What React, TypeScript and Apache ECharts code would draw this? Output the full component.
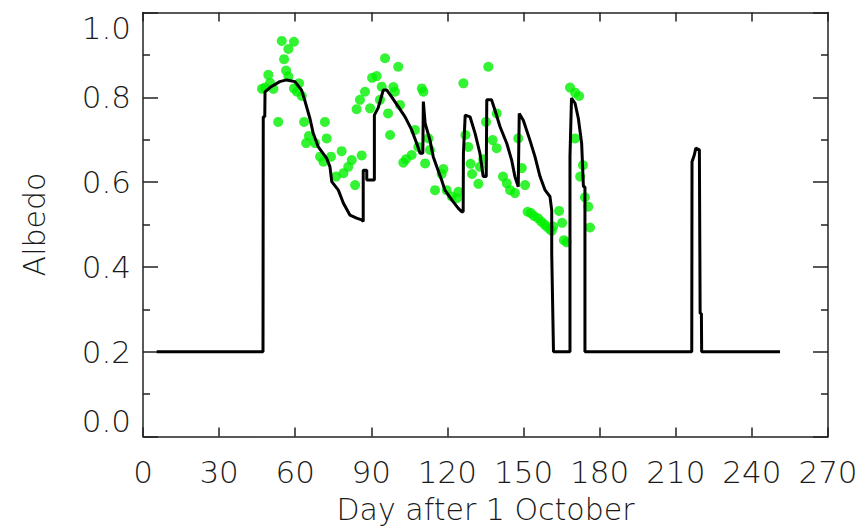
import React, { useEffect, useRef } from "react";
import * as echarts from "echarts";

const xTicks = [0, 30, 60, 90, 120, 150, 180, 210, 240, 270];
const yTicks = [0.0, 0.2, 0.4, 0.6, 0.8, 1.0];

const modelDays = [
  5.4, 47.3, 47.4, 48.0, 48.1, 50.5, 53.9, 56.6, 59.9, 62.5, 63.9, 65.8, 67.1, 69.1, 72.4, 73.7, 74.4, 77.0,
  79.0, 81.6, 84.2, 86.2, 86.8, 86.8, 88.2, 88.2, 91.2, 91.2, 92.7, 94.7, 96.1, 98.0, 100.6, 103.3, 105.9,
  107.9, 109.2, 110.3, 110.5, 111.2, 113.1, 114.4, 115.8, 117.7, 119.0, 121.7, 124.3, 125.6, 126.2, 126.3,
  127.0, 128.9, 130.9, 132.8, 134.1, 135.3, 135.5, 137.4, 138.7, 140.7, 143.4, 145.3, 146.6, 147.9, 148.3,
  149.9, 152.5, 154.5, 156.5, 158.5, 160.4, 161.1, 161.1, 161.8, 168.3, 168.3, 168.9, 170.3, 171.6, 172.9,
  173.6, 174.2, 174.2, 216.3, 216.4, 217.3, 217.9, 219.3, 219.6, 220.1, 220.2, 251.1,
];
const modelAlbedo = [
  0.2, 0.2, 0.754, 0.754, 0.813, 0.825, 0.837, 0.841, 0.837, 0.817, 0.79, 0.75, 0.715, 0.683, 0.656, 0.636,
  0.601, 0.581, 0.55, 0.522, 0.515, 0.511, 0.507, 0.628, 0.628, 0.605, 0.605, 0.758, 0.775, 0.817, 0.817,
  0.801, 0.778, 0.754, 0.723, 0.691, 0.668, 0.668, 0.79, 0.739, 0.699, 0.66, 0.636, 0.605, 0.581, 0.558,
  0.538, 0.53, 0.53, 0.668, 0.758, 0.754, 0.715, 0.668, 0.613, 0.613, 0.794, 0.794, 0.77, 0.731, 0.691,
  0.652, 0.613, 0.589, 0.762, 0.746, 0.699, 0.66, 0.613, 0.581, 0.566, 0.534, 0.433, 0.2, 0.2, 0.66, 0.798,
  0.786, 0.75, 0.691, 0.589, 0.589, 0.2, 0.2, 0.648, 0.664, 0.68, 0.676, 0.29, 0.29, 0.2, 0.2,
];

const obsDays = [
  48.1, 49.4, 51.4, 50.1, 54.7, 59.5, 57.3, 55.6, 53.3, 56.4, 57.3, 61.5, 59.5, 60.7, 62.6, 63.5, 71.7,
  65.4, 72.4, 64.3, 67.8, 69.8, 74.1, 78.3, 71.1, 82.3, 86.2, 80.9, 76.1, 79.0, 83.6, 90.3, 87.5, 85.5,
  84.2, 89.5, 95.4, 100.6, 92.1, 94.1, 98.7, 99.3, 93.4, 101.3, 96.6, 97.4, 109.9, 110.5, 107.2, 112.5,
  113.1, 108.5, 105.9, 103.7, 102.6, 111.2, 118.4, 117.7, 115.1, 119.7, 121.7, 124.3, 123.7, 126.3, 136.1,
  139.4, 135.2, 127.1, 128.2, 137.8, 139.4, 147.9, 134.1, 129.1, 129.7, 132.8, 132.2, 141.9, 143.4, 144.7,
  146.6, 149.3, 150.6, 151.6, 154.1, 156.9, 159.1, 161.1, 164.0, 165.2, 167.0, 165.9, 161.7, 168.3, 170.3,
  171.9, 170.3, 173.4, 172.3, 174.2, 175.5, 176.2, 155.7, 158.1, 152.9, 160.3, 46.9,
];
const obsAlbedo = [
  0.823, 0.853, 0.82, 0.834, 0.933, 0.931, 0.914, 0.89, 0.742, 0.863, 0.849, 0.833, 0.821, 0.813, 0.803,
  0.742, 0.742, 0.709, 0.703, 0.692, 0.692, 0.66, 0.66, 0.673, 0.648, 0.652, 0.663, 0.636, 0.613, 0.621,
  0.593, 0.846, 0.813, 0.794, 0.772, 0.774, 0.892, 0.872, 0.85, 0.825, 0.824, 0.813, 0.794, 0.782, 0.762,
  0.711, 0.821, 0.813, 0.723, 0.703, 0.676, 0.683, 0.664, 0.654, 0.646, 0.644, 0.631, 0.619, 0.581, 0.581,
  0.566, 0.577, 0.562, 0.833, 0.872, 0.762, 0.742, 0.711, 0.683, 0.699, 0.68, 0.703, 0.654, 0.643, 0.619,
  0.636, 0.596, 0.613, 0.597, 0.581, 0.574, 0.633, 0.593, 0.53, 0.52, 0.507, 0.495, 0.485, 0.532, 0.504,
  0.458, 0.463, 0.495, 0.823, 0.811, 0.803, 0.703, 0.64, 0.613, 0.564, 0.542, 0.493, 0.515, 0.501, 0.527,
  0.489, 0.82,
];

const FONT = "'DejaVu Sans', sans-serif";
const TXT = "#1a1a1a";

export default function App() {
  const ref = useRef<HTMLDivElement>(null);
  useEffect(() => {
    if (!ref.current) return;
    const chart = echarts.init(ref.current, null, { renderer: "svg" });
    const lineData = modelDays.map((d, i) => [d, modelAlbedo[i]]);
    const obsData = obsDays.map((d, i) => [d, obsAlbedo[i]]);
    const axisLine = { show: true, onZero: false, lineStyle: { color: "#222", width: 1.5 } };
    chart.setOption({
      animation: false,
      backgroundColor: "#fff",
      grid: { left: 143, right: 39, top: 12.5, bottom: 95.5 },
      xAxis: [
        {
          type: "value",
          min: 0,
          max: 270,
          interval: 30,
          position: "bottom",
          axisLine,
          axisTick: { show: true, inside: true, length: 9, lineStyle: { color: "#222", width: 1.5 } },
          splitLine: { show: false },
          axisLabel: {
            show: true,
            margin: 20,
            fontSize: 31,
            fontFamily: FONT,
            fontWeight: 200,
            color: TXT,
            formatter: (v: number) => (xTicks.includes(v) ? String(v) : ""),
          },
          name: "Day after 1 October",
          nameLocation: "middle",
          nameGap: 58,
          nameTextStyle: { fontSize: 30, fontFamily: FONT, fontWeight: 200, color: TXT },
        },
        {
          type: "value",
          min: 0,
          max: 270,
          interval: 30,
          position: "top",
          axisLine,
          axisTick: { show: true, inside: true, length: 9, lineStyle: { color: "#222", width: 1.5 } },
          splitLine: { show: false },
          axisLabel: { show: false },
        },
      ],
      yAxis: [
        {
          type: "value",
          min: 0,
          max: 1,
          interval: 0.2,
          position: "left",
          axisLine,
          axisTick: { show: true, inside: true, length: 15, lineStyle: { color: "#222", width: 1.5 } },
          minorTick: { show: true, splitNumber: 2, length: 7, lineStyle: { color: "#222", width: 1.5 } },
          splitLine: { show: false },
          axisLabel: {
            show: true,
            margin: 12,
            fontSize: 31,
            fontFamily: FONT,
            fontWeight: 200,
            color: TXT,
            verticalAlignMaxLabel: "top",
            verticalAlignMinLabel: "bottom",
            formatter: (v: number) => {
              const t = yTicks.find((y) => Math.abs(y - v) < 1e-6);
              return t === undefined ? "" : t.toFixed(1);
            },
          },
          name: "Albedo",
          nameLocation: "middle",
          nameGap: 94,
          nameRotate: 90,
          nameTextStyle: { fontSize: 30, fontFamily: FONT, fontWeight: 200, color: TXT },
        },
        {
          type: "value",
          min: 0,
          max: 1,
          interval: 0.2,
          position: "right",
          axisLine,
          axisTick: { show: true, inside: true, length: 15, lineStyle: { color: "#222", width: 1.5 } },
          minorTick: { show: true, splitNumber: 2, length: 7, lineStyle: { color: "#222", width: 1.5 } },
          splitLine: { show: false },
          axisLabel: { show: false },
        },
      ],
      series: [
        {
          type: "scatter",
          name: "Observed",
          data: obsData,
          xAxisIndex: 0,
          yAxisIndex: 0,
          symbol: "circle",
          symbolSize: 10,
          itemStyle: { color: "#00f000" },
          z: 2,
        },
        {
          type: "line",
          name: "Model",
          data: lineData,
          xAxisIndex: 0,
          yAxisIndex: 0,
          showSymbol: false,
          symbol: "none",
          lineStyle: { color: "#000", width: 3 },
          z: 3,
        },
      ],
    });
    return () => chart.dispose();
  }, []);
  return <div ref={ref} style={{ position: "fixed", left: 0, top: 0, width: 867, height: 532 }} />;
}
